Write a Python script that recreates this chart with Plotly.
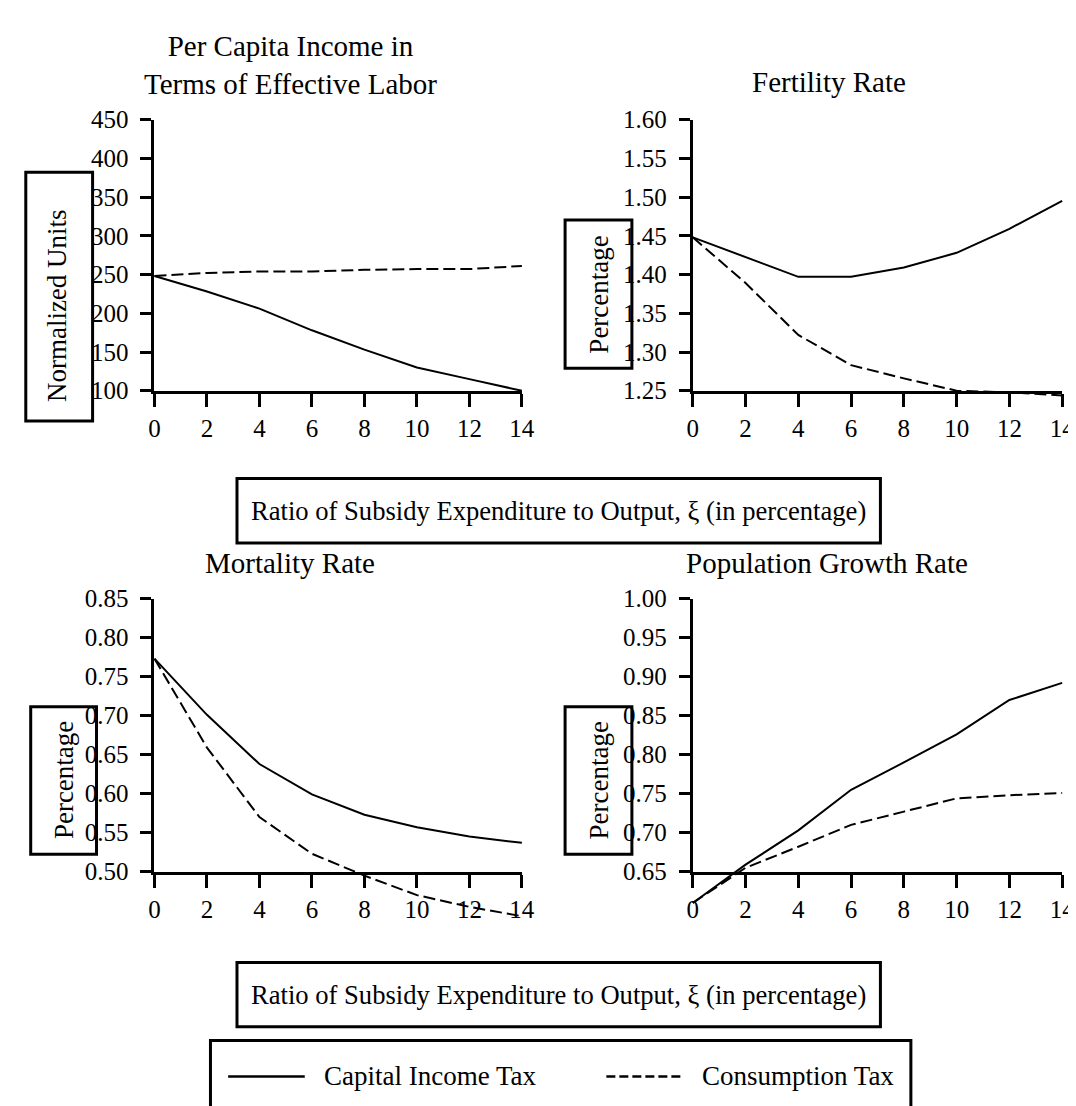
import plotly.graph_objects as go

# ---------------- data ----------------
xi = [0, 2, 4, 6, 8, 10, 12, 14]

income_capital = [248, 228, 206, 178, 153, 130, 115, 100]
income_consumption = [248, 252, 254, 254, 256, 257, 257, 261]

fert_capital = [1.448, 1.422, 1.397, 1.397, 1.409, 1.428, 1.459, 1.495]
fert_consumption = [1.448, 1.389, 1.322, 1.283, 1.266, 1.250, 1.248, 1.244]

mort_capital = [0.773, 0.701, 0.638, 0.599, 0.573, 0.557, 0.545, 0.537]
mort_consumption = [0.773, 0.659, 0.570, 0.523, 0.495, 0.470, 0.455, 0.443]

pop_capital = [0.610, 0.659, 0.703, 0.755, 0.790, 0.826, 0.870, 0.892]
pop_consumption = [0.610, 0.655, 0.682, 0.710, 0.727, 0.744, 0.748, 0.751]

x_ticks = [0, 2, 4, 6, 8, 10, 12, 14]
income_ticks = [100, 150, 200, 250, 300, 350, 400, 450]
fert_ticks = [1.25, 1.30, 1.35, 1.40, 1.45, 1.50, 1.55, 1.60]
mort_ticks = [0.50, 0.55, 0.60, 0.65, 0.70, 0.75, 0.80, 0.85]
pop_ticks = [0.65, 0.70, 0.75, 0.80, 0.85, 0.90, 0.95, 1.00]

titles = ["Per Capita Income in<br>Terms of Effective Labor", "Fertility Rate",
          "Mortality Rate", "Population Growth Rate"]
y_titles = ["Normalized Units", "Percentage", "Percentage", "Percentage"]
x_title = "Ratio of Subsidy Expenditure to Output, \u03be (in percentage)"
series_names = ["Capital Income Tax", "Consumption Tax"]

# ---------------- layout helpers ----------------
W, H = 1076, 1106
FONT = "Liberation Serif"


def fx(p):
    return p / W


def fy(p):
    return 1 - p / H


panels = [
    dict(x0=143, x1=517, y0=101, y1=379, ticks=income_ticks, fmt="d",
         cap=income_capital, con=income_consumption,
         title_xy=(281, 45), ybox=(12, 80, 155, 410), ytxt=(44, 292)),
    dict(x0=691, x1=1067, y0=101, y1=379, ticks=fert_ticks, fmt=".2f",
         cap=fert_capital, con=fert_consumption,
         title_xy=(830, 63), ybox=(561, 629, 204, 356), ytxt=(596, 280)),
    dict(x0=143, x1=517, y0=592, y1=872, ticks=mort_ticks, fmt=".2f",
         cap=mort_capital, con=mort_consumption,
         title_xy=(281, 556), ybox=(17, 84, 703, 854), ytxt=(51, 778)),
    dict(x0=691, x1=1067, y0=592, y1=872, ticks=pop_ticks, fmt=".2f",
         cap=pop_capital, con=pop_consumption,
         title_xy=(828, 556), ybox=(561, 629, 703, 854), ytxt=(596, 778)),
]

fig = go.Figure()
layout = {}
annotations = []
shapes = []

line_black = dict(color="black", width=3)

for i, p in enumerate(panels):
    vis = 2 * i + 1
    hid = 2 * i + 2
    xa, xb = fx(p["x0"]), fx(p["x1"])
    yb, yt = fy(p["y1"]), fy(p["y0"])
    ymin, ymax = p["ticks"][0], p["ticks"][-1]
    xr = [x_ticks[0], x_ticks[-1]]

    # visible axes
    layout[f"xaxis{vis}"] = dict(
        domain=[xa, xb], range=xr, anchor=f"y{vis}", showline=True,
        linewidth=3, linecolor="black", ticks="outside", ticklen=13,
        tickwidth=3, tickcolor="black", tickmode="array", tickvals=x_ticks,
        showgrid=False, zeroline=False,
        tickfont=dict(family=FONT, size=25, color="black"))
    layout[f"yaxis{vis}"] = dict(
        domain=[yb, yt], range=[ymin, ymax], anchor=f"x{vis}", showline=True,
        linewidth=3, linecolor="black", ticks="outside", ticklen=11,
        tickwidth=3, tickcolor="black", tickmode="array", tickvals=p["ticks"],
        tickformat=p["fmt"], showgrid=False, zeroline=False, ticklabelstandoff=7,
        tickfont=dict(family=FONT, size=25, color="black"))

    # hidden data axes with identical scale but extended area (no clipping)
    ex_u = 0.3
    ex_p = (xb - xa) / (xr[1] - xr[0]) * ex_u
    ey_u = 0.2 * (ymax - ymin)
    ey_p = 0.2 * (yt - yb)
    layout[f"xaxis{hid}"] = dict(
        domain=[xa - ex_p, min(1.0, xb + ex_p)], range=[xr[0] - ex_u, xr[1] + ex_u],
        anchor=f"y{hid}", visible=False, showgrid=False, zeroline=False)
    layout[f"yaxis{hid}"] = dict(
        domain=[yb - ey_p, yt + ey_p], range=[ymin - ey_u, ymax + ey_u],
        anchor=f"x{hid}", visible=False, showgrid=False, zeroline=False)

    fig.add_trace(go.Scatter(x=[None], y=[None], xaxis=f"x{vis}", yaxis=f"y{vis}",
                             showlegend=False, hoverinfo="skip"))
    fig.add_trace(go.Scatter(x=xi, y=p["cap"], mode="lines", name=series_names[0],
                             xaxis=f"x{hid}", yaxis=f"y{hid}", showlegend=False,
                             line=dict(color="black", width=2)))
    fig.add_trace(go.Scatter(x=xi, y=p["con"], mode="lines", name=series_names[1],
                             xaxis=f"x{hid}", yaxis=f"y{hid}", showlegend=False,
                             line=dict(color="black", width=2, dash="12px,5px")))

    # panel title
    tx, ty = p["title_xy"]
    annotations.append(dict(text=titles[i], x=fx(tx), y=fy(ty), xref="paper",
                            yref="paper", xanchor="center", yanchor="middle",
                            showarrow=False,
                            font=dict(family=FONT, size=29, color="black")))
    # boxed y title
    bx0, bx1, by0, by1 = p["ybox"]
    shapes.append(dict(type="rect", xref="paper", yref="paper",
                       x0=fx(bx0), x1=fx(bx1), y0=fy(by1), y1=fy(by0),
                       line=line_black, fillcolor="rgba(0,0,0,0)"))
    tx, ty = p["ytxt"]
    annotations.append(dict(text=y_titles[i], x=fx(tx), y=fy(ty), xref="paper",
                            yref="paper", xanchor="center", yanchor="middle",
                            textangle=-90, showarrow=False,
                            font=dict(family=FONT, size=27, color="black")))

# boxed x titles
for (y0, y1, ty) in [(469, 535, 502), (965, 1031, 998)]:
    shapes.append(dict(type="rect", xref="paper", yref="paper",
                       x0=fx(227), x1=fx(882), y0=fy(y1), y1=fy(y0),
                       line=line_black, fillcolor="rgba(0,0,0,0)"))
    annotations.append(dict(text=x_title, x=fx(554), y=fy(ty), xref="paper",
                            yref="paper", xanchor="center", yanchor="middle",
                            showarrow=False,
                            font=dict(family=FONT, size=26.6, color="black")))

# legend (box partly cut at bottom of the page, as in the original)
shapes.append(dict(type="rect", xref="paper", yref="paper",
                   x0=fx(200), x1=fx(913), y0=fy(1130), y1=fy(1045),
                   line=line_black, fillcolor="rgba(0,0,0,0)"))
shapes.append(dict(type="line", xref="paper", yref="paper",
                   x0=fx(218), x1=fx(296), y0=fy(1082), y1=fy(1082),
                   line=dict(color="black", width=2.5)))
shapes.append(dict(type="line", xref="paper", yref="paper",
                   x0=fx(603), x1=fx(682), y0=fy(1082), y1=fy(1082),
                   line=dict(color="black", width=2.5, dash="9px,4px")))
annotations.append(dict(text=series_names[0], x=fx(314), y=fy(1081), xref="paper",
                        yref="paper", xanchor="left", yanchor="middle",
                        showarrow=False, font=dict(family=FONT, size=27, color="black")))
annotations.append(dict(text=series_names[1], x=fx(698), y=fy(1081), xref="paper",
                        yref="paper", xanchor="left", yanchor="middle",
                        showarrow=False, font=dict(family=FONT, size=27, color="black")))

fig.update_layout(
    width=W, height=H, autosize=False,
    margin=dict(l=0, r=0, t=0, b=0),
    paper_bgcolor="white", plot_bgcolor="rgba(0,0,0,0)",
    showlegend=False,
    font=dict(family=FONT, color="black"),
    annotations=annotations, shapes=shapes,
    **layout,
)

fig.write_html("out.html")
